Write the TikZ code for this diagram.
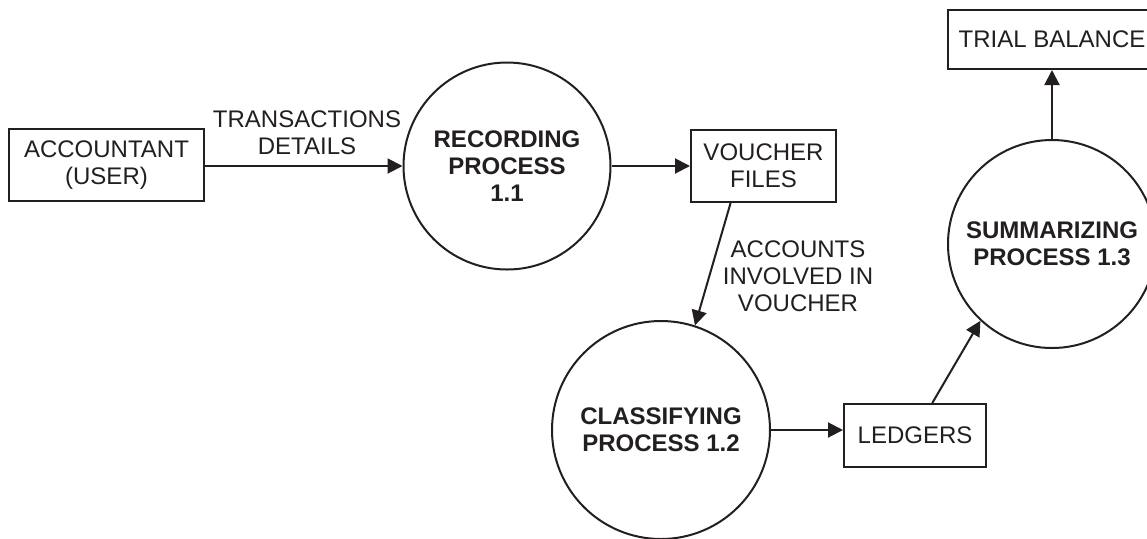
\documentclass[tikz,border=0pt]{standalone}
\usepackage{fontspec}
\setmainfont{Liberation Sans}
\usetikzlibrary{arrows.meta,calc}
\definecolor{ink}{HTML}{231F20}
\tikzset{
  ent/.style={draw=ink, line width=1pt, text=ink, inner sep=0pt, align=center,
    font=\fontsize{12}{13.5}\selectfont},
  proc/.style={circle, draw=ink, line width=1pt, text=ink, inner sep=0pt, align=center,
    font=\fontsize{12}{13.5}\selectfont\bfseries},
  flow/.style={draw=ink, line width=1pt, -{Triangle[length=7.5pt,width=7.5pt]}},
  lbl/.style={text=ink, align=center, inner sep=0pt, font=\fontsize{12}{13.5}\selectfont}
}
\begin{document}
\begin{tikzpicture}[x=0.5pt,y=-0.5pt]
\useasboundingbox (0,0) rectangle (1147,538);
\clip (0,0) rectangle (1147,538);
\fill[white] (0,0) rectangle (1147,538);
\node[ent, minimum width=97.5pt, minimum height=36pt] (acc) at (106.5,165) {ACCOUNTANT\\(USER)};
\node[proc, minimum size=103.5pt] (c1) at (507,166) {RECORDING\\PROCESS\\1.1};
\node[ent, minimum width=72.5pt, minimum height=36pt] (vf) at (763.5,166) {VOUCHER\\FILES};
\node[proc, minimum size=109pt] (c2) at (661,430) {CLASSIFYING\\PROCESS 1.2};
\node[ent, minimum width=71pt, minimum height=31.5pt] (led) at (915,435.5) {LEDGERS};
\node[proc, minimum size=104pt] (c3) at (1052,244) {SUMMARIZING\\PROCESS 1.3};
\node[ent, minimum width=104pt, minimum height=29.5pt] (tb) at (1052,39.5) {TRIAL BALANCE};
\node[lbl] (l1) at (307,133) {TRANSACTIONS\\DETAILS};
\node[lbl] (l2) at (798,276) {ACCOUNTS\\INVOLVED IN\\VOUCHER};
\draw[flow] (c1.west -| acc.east) -- (c1.west);
\draw[flow] (c1.east) -- (c1.east -| vf.west);
\draw[flow] ($(vf.south west)!0.276!(vf.south east)$) -- (c2.72.6);
\draw[flow] (c2.east) -- (c2.east -| led.west);
\draw[flow] ($(led.north west)!0.62!(led.north east)$) -- (c3.227.8);
\draw[flow] (c3.north) -- (tb.south);
\end{tikzpicture}
\end{document}
